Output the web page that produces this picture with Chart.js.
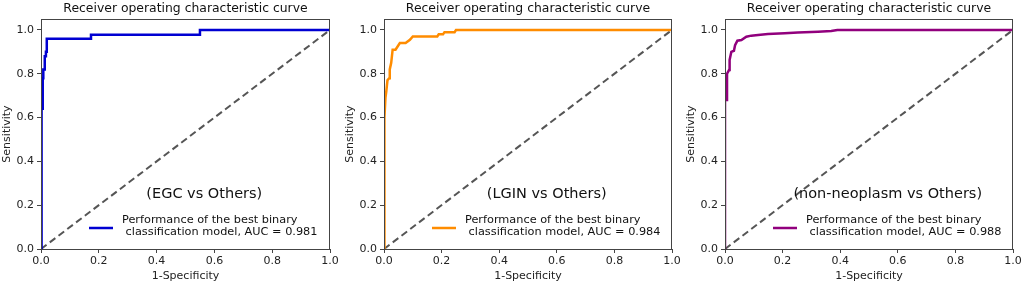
<!DOCTYPE html>
<html>
<head>
<meta charset="utf-8">
<script src="https://cdn.jsdelivr.net/npm/chart.js@4"></script>
<style>
    body { margin: 0; background: #fff; }
    .wrap { position: relative; width: 1024px; height: 284px; }
    canvas { position: absolute; top: 0; }
</style>
</head>
<body>
<div class="wrap">
    <canvas id="rocEgc" width="341" height="284" style="left:0px"></canvas>
    <canvas id="rocLgin" width="340" height="284" style="left:343px"></canvas>
    <canvas id="rocNon" width="340" height="284" style="left:684px"></canvas>
</div>
<script>
const egcFpr = [0, 0, 0.003, 0.003, 0.006, 0.006, 0.008, 0.008, 0.013, 0.013, 0.017, 0.017, 0.02, 0.02, 0.173, 0.173, 0.55, 0.55, 1.0];
const egcTpr = [0, 0.5, 0.5, 0.64, 0.64, 0.78, 0.78, 0.82, 0.82, 0.88, 0.88, 0.90, 0.90, 0.96, 0.96, 0.978, 0.978, 1.0, 1.0];

const lginFpr = [0, 0, 0.003, 0.005, 0.008, 0.012, 0.018, 0.02, 0.025, 0.03, 0.04, 0.045, 0.055, 0.075, 0.09, 0.1, 0.185, 0.19, 0.205, 0.21, 0.245, 0.25, 1.0];
const lginTpr = [0, 0.56, 0.60, 0.69, 0.72, 0.77, 0.78, 0.82, 0.85, 0.91, 0.91, 0.92, 0.94, 0.94, 0.955, 0.97, 0.97, 0.98, 0.98, 0.99, 0.99, 1.0, 1.0];

const nonFpr = [0, 0, 0.007, 0.007, 0.014, 0.016, 0.022, 0.031, 0.035, 0.043, 0.057, 0.074, 0.091, 0.115, 0.149, 0.207, 0.253, 0.323, 0.369, 0.39, 1.0];
const nonTpr = [0, 0.68, 0.68, 0.80, 0.817, 0.863, 0.90, 0.905, 0.93, 0.951, 0.954, 0.969, 0.974, 0.977, 0.982, 0.985, 0.988, 0.992, 0.995, 1.0, 1.0];

const chanceLine = [0, 1];
const tickValues = [0, 0.2, 0.4, 0.6, 0.8, 1.0];

const titleText = 'Receiver operating characteristic curve';
const legendLines = ['Performance of the best binary', ' classification model, AUC = '];

const FONT = "'DejaVu Sans', sans-serif";
const SPINE = '#444';

function zip(xs, ys) {
    return xs.map((x, i) => ({ x: x, y: ys[i] }));
}

// title, caption, legend and the top/right spines
const rocExtras = {
    id: 'rocExtras',
    afterDatasetsDraw(chart, args, opts) {
        const { ctx, chartArea: a, scales } = chart;
        ctx.save();
        ctx.strokeStyle = SPINE;
        ctx.lineWidth = 1;
        ctx.strokeRect(a.left + 0.5, a.top + 0.5, a.right - a.left - 1, a.bottom - a.top);

        ctx.fillStyle = '#111';
        ctx.textAlign = 'center';
        ctx.textBaseline = 'middle';
        ctx.font = '12.4px ' + FONT;
        ctx.fillText(titleText, (a.left + a.right) / 2, a.top - 10);

        ctx.font = '14.5px ' + FONT;
        ctx.fillText(opts.caption, scales.x.getPixelForValue(0.565), scales.y.getPixelForValue(0.25));

        ctx.strokeStyle = opts.color;
        ctx.lineWidth = 2.5;
        ctx.beginPath();
        ctx.moveTo(a.left + 48, a.bottom - 21);
        ctx.lineTo(a.left + 72, a.bottom - 21);
        ctx.stroke();

        ctx.font = '11.3px ' + FONT;
        ctx.textAlign = 'left';
        ctx.fillText(legendLines[0], a.left + 81, a.bottom - 29);
        ctx.fillText(legendLines[1] + opts.auc, a.left + 81, a.bottom - 17);
        ctx.restore();
    }
};

function makeConfig(fpr, tpr, color, caption, auc) {
    return {
        type: 'line',
        data: {
            datasets: [{
                data: zip(fpr, tpr),
                borderColor: color,
                borderWidth: 2.5,
                pointRadius: 0,
                tension: 0
            }, {
                data: zip(chanceLine, chanceLine),
                borderColor: '#555',
                borderWidth: 2,
                borderDash: [7, 4],
                pointRadius: 0
            }]
        },
        options: {
            responsive: false,
            animation: false,
            layout: { padding: { left: 0, right: 11, top: 19, bottom: 0 } },
            scales: {
                x: {
                    type: 'linear',
                    min: 0,
                    max: 1,
                    afterFit: s => { s.height = 35; },
                    afterBuildTicks: s => { s.ticks = tickValues.map(v => ({ value: v })); },
                    grid: { drawOnChartArea: false, tickLength: 4, color: SPINE },
                    border: { color: SPINE },
                    ticks: {
                        padding: 2,
                        color: '#222',
                        font: { family: FONT, size: 11 },
                        callback: v => v.toFixed(1)
                    },
                    title: {
                        display: true,
                        text: '1-Specificity',
                        color: '#222',
                        padding: { top: 0, bottom: 1.5 },
                        font: { family: FONT, size: 11 }
                    }
                },
                y: {
                    type: 'linear',
                    min: 0,
                    max: 1.05,
                    afterFit: s => { s.width = 41; },
                    afterBuildTicks: s => { s.ticks = tickValues.map(v => ({ value: v })); },
                    grid: { drawOnChartArea: false, tickLength: 4, color: SPINE },
                    border: { color: SPINE },
                    ticks: {
                        padding: 3,
                        color: '#222',
                        font: { family: FONT, size: 11 },
                        callback: v => v.toFixed(1)
                    },
                    title: {
                        display: true,
                        text: 'Sensitivity',
                        color: '#222',
                        padding: { top: 1, bottom: 0 },
                        font: { family: FONT, size: 11 }
                    }
                }
            },
            plugins: {
                legend: { display: false },
                tooltip: { enabled: false },
                title: { display: false },
                rocExtras: { caption: caption, color: color, auc: auc }
            }
        },
        plugins: [rocExtras]
    };
}

const rocEgc = new Chart(
    document.getElementById('rocEgc'),
    makeConfig(egcFpr, egcTpr, 'rgb(0,0,210)', '(EGC vs Others)', '0.981')
);
const rocLgin = new Chart(
    document.getElementById('rocLgin'),
    makeConfig(lginFpr, lginTpr, 'rgb(255,140,0)', '(LGIN vs Others)', '0.984')
);
const rocNon = new Chart(
    document.getElementById('rocNon'),
    makeConfig(nonFpr, nonTpr, 'rgb(145,0,125)', '(non-neoplasm vs Others)', '0.988')
);
</script>
</body>
</html>
